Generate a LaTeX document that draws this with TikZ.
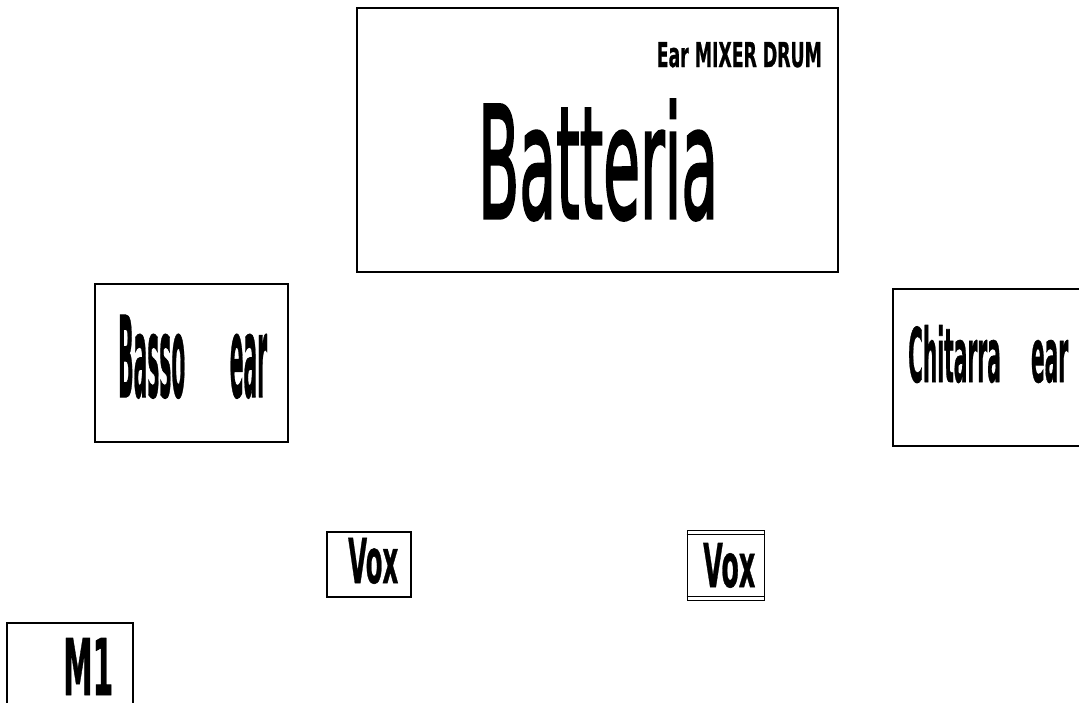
\documentclass[tikz,border=0pt]{standalone}
\usepackage{graphicx}
\usepackage{fontspec}
\setmainfont{DejaVu Sans}
\newfontfamily\heavyfont[FakeBold=2.2]{DejaVu Sans}
\newfontfamily\boldfont[FakeBold=1]{DejaVu Sans Bold}
\usepackage{tikz}
\usetikzlibrary{positioning}

\newcommand{\fitstr}[3]{\resizebox{#1}{#2}{#3}}

\begin{document}
\begin{tikzpicture}[
  x=1pt, y=-1pt,
  box/.style={draw, line width=1.3pt, inner sep=0pt},
  txt/.style={inner sep=0pt, anchor=base west},
  thin/.style={line width=0.9pt},
]
\clip (0,0) rectangle (1079,702);
\fill[white] (0,0) rectangle (1079,702);

% boxes
\node[box, minimum width=481pt, minimum height=264pt] (drum) at (597.5,140) {};
\node[box, minimum width=193pt, minimum height=158pt] (bass) at (191.5,363) {};
\node[box, minimum width=202pt, minimum height=157pt] (guitar) at (994,367.5) {};
\node[box, minimum width=84pt, minimum height=65pt] (voxl) at (369,564.5) {};
\node[box, thin, minimum width=77pt, minimum height=70pt] (voxr) at (725.5,565) {};
\node[box, minimum width=126pt, minimum height=97pt] (mone) at (70,671.5) {};

% second line of the double border
\draw[thin] ([yshift=-5pt]voxr.north west) -- ([yshift=-5pt]voxr.north east);
\draw[thin] ([yshift=4pt]voxr.south west) -- ([yshift=4pt]voxr.south east);

% labels
\node[txt, anchor=base east] (earmix) at (822,67) {\fitstr{165pt}{25pt}{\boldfont Ear MIXER DRUM}};
\node[txt] (drumtxt) at (478,218) {\fitstr{240pt}{118pt}{\heavyfont Batteria}};
\node[txt] (basstxt) at (118,397) {\fitstr{149pt}{82pt}{\boldfont Basso\hspace{2.2em}ear}};
\node[txt] (guitartxt) at (908,382) {\fitstr{160pt}{57pt}{\boldfont Chitarra\hspace{1.5em}ear}};
\node[txt] (voxltxt) at (348,583) {\fitstr{50pt}{45pt}{\boldfont Vox}};
\node[txt] (voxrtxt) at (703,587) {\fitstr{52pt}{44pt}{\boldfont Vox}};
\node[txt] (monetxt) at (63,695) {\fitstr{50pt}{57pt}{\boldfont M1}};
\end{tikzpicture}
\end{document}
